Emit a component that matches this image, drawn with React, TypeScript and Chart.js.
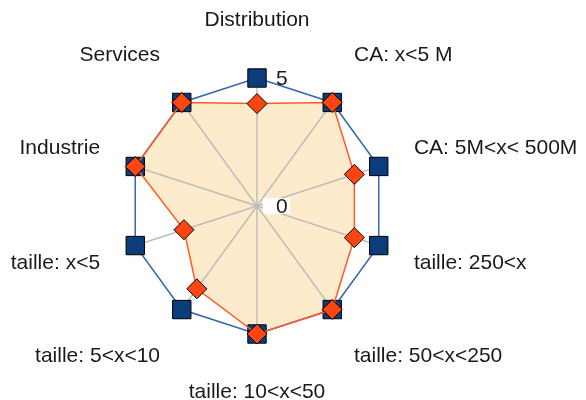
import React, { useEffect, useRef } from 'react';
import { Chart, registerables } from 'chart.js';

Chart.register(...registerables);

const categories = [
  'Distribution',
  'CA: x<5 M',
  'CA: 5M<x< 500M',
  'taille: 250<x',
  'taille: 50<x<250',
  'taille: 10<x<50',
  'taille: 5<x<10',
  'taille: x<5',
  'Industrie',
  'Services',
];
const maxSeries = [5, 5, 5, 5, 5, 5, 5, 5, 5, 5];
const actualSeries = [4, 5, 4, 4, 5, 5, 4, 3, 5, 5];
const tickValues = [0, 5];

const FONT = "'Liberation Sans', Arial, sans-serif";

const labelPlugin = {
  id: 'radarTextLabels',
  afterDraw(chart: any) {
    const scale = chart.scales.r;
    const ctx = chart.ctx;
    const labels: string[] = chart.data.labels;
    const n = labels.length;
    ctx.save();
    ctx.font = `21px ${FONT}`;
    ctx.fillStyle = '#1a1a1a';
    ctx.textBaseline = 'middle';
    labels.forEach((lbl, i) => {
      const px = scale.getPointPosition(i, scale.drawingArea + 37);
      const py = scale.getPointPosition(i, scale.drawingArea + 58);
      const angle = (i * 360) / n;
      ctx.textAlign = angle === 0 || angle === 180 ? 'center' : angle < 180 ? 'left' : 'right';
      ctx.fillText(lbl, px.x, py.y);
    });
    tickValues.forEach((v) => {
      const d = scale.getDistanceFromCenterForValue(v);
      const y = scale.yCenter - d;
      if (v === 0) {
        ctx.fillStyle = '#ffffff';
        ctx.fillRect(scale.xCenter + 6, y - 8, 27, 16);
      }
      ctx.fillStyle = '#1a1a1a';
      ctx.textAlign = 'left';
      ctx.fillText(String(v), scale.xCenter + 19, y + 1);
    });
    ctx.restore();
  },
};

export default function App() {
  const ref = useRef<HTMLCanvasElement | null>(null);

  useEffect(() => {
    if (!ref.current) return;
    const chart = new Chart(ref.current, {
      type: 'radar',
      data: {
        labels: categories,
        datasets: [
          {
            label: 'Actual',
            data: actualSeries,
            borderColor: '#ff5a2a',
            borderWidth: 1.5,
            backgroundColor: '#fdebcb',
            fill: true,
            pointStyle: 'rectRot',
            pointRadius: 10,
            pointHoverRadius: 10,
            pointBackgroundColor: '#ff4512',
            pointBorderColor: '#000000',
            pointBorderWidth: 1,
          },
          {
            label: 'Max',
            data: maxSeries,
            borderColor: '#3468a8',
            borderWidth: 1.5,
            fill: false,
            pointStyle: 'rect',
            pointRadius: 13,
            pointHoverRadius: 13,
            pointBackgroundColor: '#0b3d7d',
            pointBorderColor: '#000000',
            pointBorderWidth: 1,
          },
        ],
      },
      options: {
        animation: false,
        responsive: false,
        layout: { padding: { left: 129, right: 201, top: 78, bottom: 65 } },
        plugins: {
          legend: { display: false },
          tooltip: { enabled: false },
          filler: { drawTime: 'beforeDraw' },
        },
        scales: {
          r: {
            min: 0,
            max: 5,
            beginAtZero: true,
            ticks: { display: false, stepSize: 5 },
            grid: { display: false },
            angleLines: { display: true, color: '#bdbdbd', lineWidth: 1.5 },
            pointLabels: { display: false },
          },
        },
      },
      plugins: [labelPlugin],
    } as any);
    return () => chart.destroy();
  }, []);

  return (
    <div style={{ position: 'absolute', left: 0, top: 0, width: 586, height: 400, background: '#fff' }}>
      <canvas ref={ref} width={586} height={400} style={{ display: 'block' }} />
    </div>
  );
}
